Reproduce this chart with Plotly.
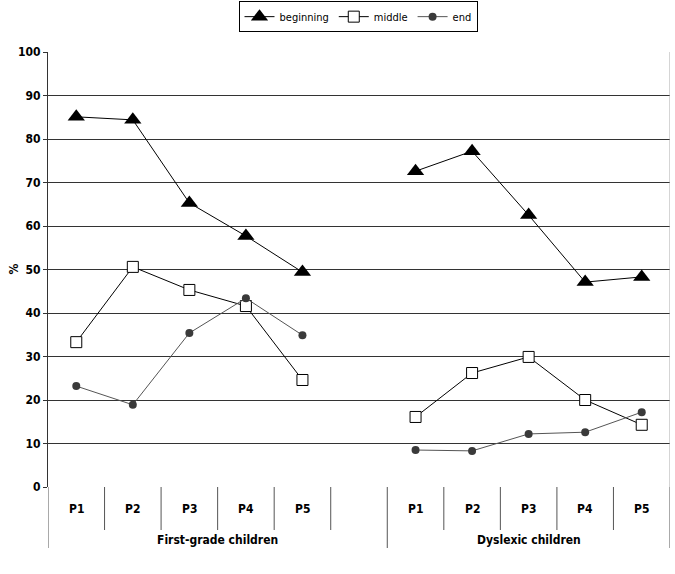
import plotly.graph_objects as go

# ---- data ----
groups = ["First-grade children", "Dyslexic children"]
phases = ["P1", "P2", "P3", "P4", "P5"]

beginning_first = [85.1, 84.4, 65.3, 57.7, 49.4]
beginning_dys = [72.6, 77.2, 62.5, 47.1, 48.3]
middle_first = [33.3, 50.6, 45.3, 41.6, 24.6]
middle_dys = [16.1, 26.2, 29.9, 20.0, 14.3]
end_first = [23.2, 18.9, 35.4, 43.4, 34.9]
end_dys = [8.5, 8.3, 12.2, 12.6, 17.2]

y_ticks = list(range(0, 101, 10))

# ---- layout helpers (category slots: 5 + blank + 5) ----
n1 = len(phases)
x_first = list(range(n1))
x_dys = [n1 + 1 + i for i in range(n1)]
x_all = x_first + [n1] + x_dys
n_slots = len(x_all)


def join(a, b):
    return a + [None] + b


FONT = "DejaVu Sans Condensed, Liberation Sans Narrow, Arial Narrow, Liberation Sans, sans-serif"

fig = go.Figure()
fig.add_trace(go.Scatter(
    x=x_all, y=join(beginning_first, beginning_dys), name="beginning",
    mode="lines+markers", connectgaps=False,
    line=dict(color="black", width=1),
    marker=dict(symbol="triangle-up", size=15, color="black"),
))
fig.add_trace(go.Scatter(
    x=x_all, y=join(middle_first, middle_dys), name="middle",
    mode="lines+markers", connectgaps=False,
    line=dict(color="black", width=1),
    marker=dict(symbol="square", size=11, color="white",
                line=dict(color="black", width=1)),
))
fig.add_trace(go.Scatter(
    x=x_all, y=join(end_first, end_dys), name="end",
    mode="lines+markers", connectgaps=False,
    line=dict(color="#555555", width=1),
    marker=dict(symbol="circle", size=8, color="#3a3a3a"),
))

# category separators
shapes = []
plot_h = 574 - 52 - 87
short = -43 / plot_h
long_ = -61 / plot_h
for k in range(n_slots + 1):
    xb = k - 0.5
    is_long = k in (0, n1 + 1, n_slots)
    shapes.append(dict(type="line", xref="x", yref="paper",
                       x0=xb, x1=xb, y0=0, y1=long_ if is_long else short,
                       line=dict(color="#555555", width=1)))
# right border of plot area
shapes.append(dict(type="line", xref="x", yref="paper",
                   x0=n_slots - 0.5, x1=n_slots - 0.5, y0=0, y1=1,
                   line=dict(color="#aaaaaa", width=1)))

annotations = []
for i, p in enumerate(phases):
    for xs in (x_first, x_dys):
        annotations.append(dict(x=xs[i], y=0, xref="x", yref="paper",
                                text="<b>%s</b>" % p, showarrow=False,
                                yshift=-22, yanchor="middle",
                                font=dict(family=FONT, size=12, color="black")))
group_centers = [(x_first[0] - 0.5 + n1 + 0.5) / 2, (x_dys[0] - 0.5 + x_dys[-1] + 0.5) / 2]
for g, c in zip(groups, group_centers):
    annotations.append(dict(x=c, y=0, xref="x", yref="paper",
                            text="<b>%s</b>" % g, showarrow=False,
                            yshift=-53, yanchor="middle",
                            font=dict(family=FONT, size=12, color="black")))
# y-axis title
annotations.append(dict(x=(13 - 48) / (675 - 48 - 5), y=0.5, xref="paper", yref="paper",
                        xanchor="center", yanchor="middle", text="<b>%</b>",
                        textangle=-90, showarrow=False,
                        font=dict(family=FONT, size=12, color="black")))

fig.update_layout(
    width=675, height=574,
    margin=dict(l=48, r=5, t=52, b=87, autoexpand=False),
    paper_bgcolor="white", plot_bgcolor="white",
    font=dict(family=FONT, size=12, color="black"),
    showlegend=True,
    legend=dict(orientation="h", x=358 / 675, y=0.998, xref="container", yref="container",
                xanchor="center", yanchor="top",
                bordercolor="black", borderwidth=1, bgcolor="white",
                font=dict(family=FONT, size=11, color="black"),
                itemwidth=30, tracegroupgap=0),
    xaxis=dict(range=[-0.5, n_slots - 0.5], showticklabels=False, ticks="",
               showgrid=False, zeroline=False, showline=False, fixedrange=True,
               automargin=False),
    yaxis=dict(range=[0, 100], tickvals=y_ticks,
               ticktext=["<b>%d</b>" % v for v in y_ticks],
               ticks="outside", ticklen=4, tickcolor="#333333",
               showline=True, linecolor="#333333", linewidth=1,
               showgrid=True, gridcolor="#333333", gridwidth=1.2,
               zeroline=False, automargin=False,
               tickfont=dict(family=FONT, size=12)),
    shapes=shapes,
    annotations=annotations,
)

fig.write_html("out.html")
